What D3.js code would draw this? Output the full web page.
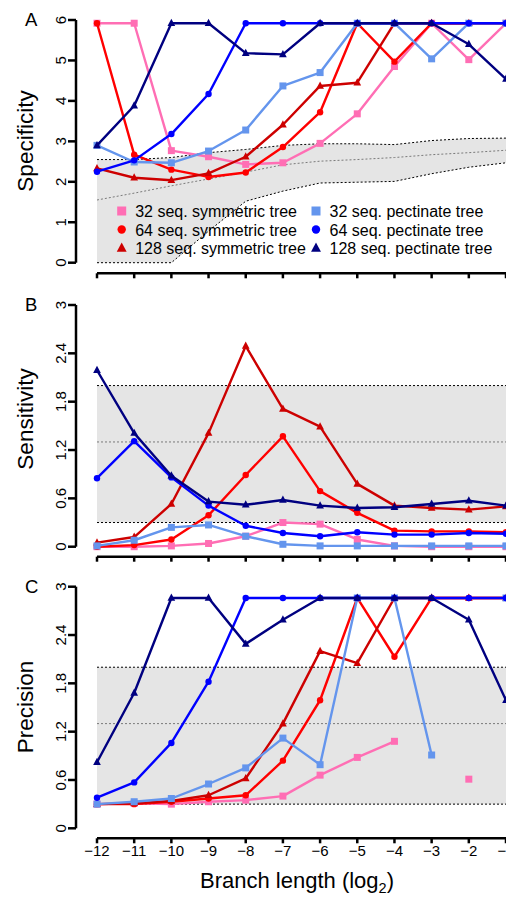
<!DOCTYPE html>
<html>
<head>
<meta charset="utf-8">
<script src="https://cdn.jsdelivr.net/npm/d3@7"></script>
<style>
  body { margin: 0; background: #fff; }
  svg { display: block; font-family: "Liberation Sans", Arial, Helvetica, sans-serif; }
</style>
</head>
<body>
<div id="chart"></div>
<script>
// branch lengths (log2)
var branchLen = [-12, -11, -10, -9, -8, -7, -6, -5, -4, -3, -2, -1];

var seriesNames = ["32 seq. symmetric tree", "64 seq. symmetric tree", "128 seq. symmetric tree",
                   "32 seq. pectinate tree", "64 seq. pectinate tree", "128 seq. pectinate tree"];
var seriesColors = ["#ff6eb4", "#ff0000", "#cd0000", "#6495ed", "#0000ff", "#000080"];
var seriesShapes = ["square", "circle", "triangle", "square", "circle", "triangle"];

// panel A - specificity
var specSym32  = [5.92, 5.92, 2.77, 2.62, 2.43, 2.47, 2.95, 3.68, 4.85, 5.92, 5.02, 5.92];
var specSym64  = [5.92, 2.67, 2.30, 2.12, 2.23, 2.86, 3.72, 5.92, 4.97, 5.92, 5.92, 5.92];
var specSym128 = [2.33, 2.10, 2.04, 2.21, 2.62, 3.41, 4.37, 4.45, 5.92, 5.92, 5.92, 5.92];
var specPec32  = [2.90, 2.49, 2.47, 2.76, 3.28, 4.37, 4.70, 5.92, 5.92, 5.04, 5.92, 5.92];
var specPec64  = [2.25, 2.53, 3.18, 4.17, 5.92, 5.92, 5.92, 5.92, 5.92, 5.92, 5.92, 5.92];
var specPec128 = [2.90, 3.88, 5.92, 5.92, 5.18, 5.15, 5.92, 5.92, 5.92, 5.92, 5.40, 4.54];
var specBandUpper = [2.55, 2.55, 2.60, 2.72, 2.80, 2.90, 2.94, 2.94, 2.92, 3.02, 3.07, 3.08];
var specBandMid   = [1.55, 1.72, 1.90, 2.07, 2.24, 2.42, 2.51, 2.55, 2.60, 2.67, 2.72, 2.78];
var specBandLower = [0, 0, 0, 0.78, 1.52, 1.77, 1.97, 1.99, 2.01, 2.20, 2.36, 2.47];

// panel B - sensitivity
var sensSym32  = [0.00, 0.00, 0.01, 0.04, 0.13, 0.30, 0.28, 0.09, 0.01, 0.00, 0.00, 0.00];
var sensSym64  = [0.00, 0.02, 0.09, 0.39, 0.89, 1.37, 0.69, 0.42, 0.20, 0.19, 0.19, 0.18];
var sensSym128 = [0.05, 0.12, 0.53, 1.41, 2.49, 1.71, 1.49, 0.78, 0.51, 0.48, 0.46, 0.50];
var sensPec32  = [0.01, 0.08, 0.24, 0.27, 0.13, 0.03, 0.01, 0.01, 0.01, 0.01, 0.01, 0.01];
var sensPec64  = [0.85, 1.31, 0.86, 0.51, 0.26, 0.17, 0.13, 0.18, 0.15, 0.15, 0.17, 0.16];
var sensPec128 = [2.19, 1.41, 0.88, 0.56, 0.52, 0.58, 0.51, 0.48, 0.49, 0.53, 0.57, 0.51];

// panel C - precision (null = no value)
var precSym32  = [0.30, 0.31, 0.30, 0.33, 0.35, 0.40, 0.66, 0.88, 1.08, null, 0.61, null];
var precSym64  = [0.30, 0.30, 0.33, 0.37, 0.41, 0.84, 1.59, 2.86, 2.13, 2.86, 2.86, 2.86];
var precSym128 = [0.30, 0.31, 0.34, 0.41, 0.62, 1.30, 2.20, 2.05, 2.86, 2.86, 2.86, 2.86];
var precPec32  = [0.30, 0.33, 0.37, 0.55, 0.75, 1.12, 0.79, 2.86, 2.86, 0.91, null, 2.86];
var precPec64  = [0.38, 0.57, 1.06, 1.82, 2.86, 2.86, 2.86, 2.86, 2.86, 2.86, 2.86, 2.86];
var precPec128 = [0.82, 1.68, 2.86, 2.86, 2.29, 2.59, 2.86, 2.86, 2.86, 2.86, 2.59, 1.59];

// flat band for B and C
var bandBC = [0.3, 1.3, 2.0];

var W = 506, H = 897;
var svg = d3.select("#chart").append("svg").attr("width", W).attr("height", H);

var x = d3.scaleLinear().domain([-12, -1]).range([97, 506]);

function flat(v) { return branchLen.map(function(){ return v; }); }
function fmt3(d) { return d === 0 || d === 3 ? String(d) : d.toFixed(1); }

var panels = [
  {letter: "A", title: "Specificity", top: 20, bottom: 262.7, axisY: 273.3, max: 6,
   ticks: [0, 1, 2, 3, 4, 5, 6], fmt: d3.format("d"), titleY: 141,
   data: [specSym32, specSym64, specSym128, specPec32, specPec64, specPec128],
   band: [specBandLower, specBandMid, specBandUpper]},
  {letter: "B", title: "Sensitivity", top: 305, bottom: 546.7, axisY: 556.7, max: 3,
   ticks: [0, 0.6, 1.2, 1.8, 2.4, 3], fmt: fmt3, titleY: 419,
   data: [sensSym32, sensSym64, sensSym128, sensPec32, sensPec64, sensPec128],
   band: [flat(bandBC[0]), flat(bandBC[1]), flat(bandBC[2])]},
  {letter: "C", title: "Precision", top: 586.7, bottom: 828.3, axisY: 838.3, max: 3,
   ticks: [0, 0.6, 1.2, 1.8, 2.4, 3], fmt: fmt3, titleY: 707,
   data: [precSym32, precSym64, precSym128, precPec32, precPec64, precPec128],
   band: [flat(bandBC[0]), flat(bandBC[1]), flat(bandBC[2])],
   xLabels: true}
];

function drawMarker(g, shape, color, cx, cy, size) {
  if (shape === "square") {
    g.append("rect").attr("x", cx - size / 2).attr("y", cy - size / 2)
      .attr("width", size).attr("height", size).attr("fill", color);
  } else if (shape === "circle") {
    g.append("circle").attr("cx", cx).attr("cy", cy).attr("r", size / 2 - 0.3).attr("fill", color);
  } else {
    var s = size * 1.1;
    g.append("path")
      .attr("d", "M" + cx + "," + (cy - s * 0.58) + "L" + (cx + s / 2) + "," + (cy + s * 0.36) +
        "L" + (cx - s / 2) + "," + (cy + s * 0.36) + "Z")
      .attr("fill", color);
  }
}

panels.forEach(function(p) {
  var y = d3.scaleLinear().domain([0, p.max]).range([p.bottom, p.top]);
  var g = svg.append("g");

  // grey band
  var area = d3.area()
    .x(function(d, i){ return x(branchLen[i]); })
    .y0(function(d, i){ return y(p.band[0][i]); })
    .y1(function(d, i){ return y(p.band[2][i]); });
  g.append("path").datum(branchLen).attr("d", area).attr("fill", "#e5e5e5");

  var bandLine = d3.line()
    .x(function(d, i){ return x(branchLen[i]); })
    .y(function(d){ return y(d); });
  [0, 2].forEach(function(k) {
    g.append("path").datum(p.band[k]).attr("d", bandLine)
      .attr("fill", "none").attr("stroke", "#000").attr("stroke-width", 1)
      .attr("stroke-dasharray", "2,2");
  });
  g.append("path").datum(p.band[1]).attr("d", bandLine)
    .attr("fill", "none").attr("stroke", "#7a7a7a").attr("stroke-width", 1)
    .attr("stroke-dasharray", "2,2");

  // series lines
  var line = d3.line()
    .defined(function(d){ return d !== null; })
    .x(function(d, i){ return x(branchLen[i]); })
    .y(function(d){ return y(d); });

  p.data.forEach(function(vals, s) {
    g.append("path").datum(vals).attr("d", line)
      .attr("fill", "none").attr("stroke", seriesColors[s]).attr("stroke-width", 2.4)
      .attr("stroke-linejoin", "round");
    vals.forEach(function(v, i) {
      if (v === null) return;
      drawMarker(g, seriesShapes[s], seriesColors[s], x(branchLen[i]), y(v), 7);
    });
  });

  // y axis
  var yAxis = g.append("g").attr("transform", "translate(76,0)");
  yAxis.append("line").attr("x1", 0).attr("x2", 0).attr("y1", y(0)).attr("y2", y(p.max))
    .attr("stroke", "#000").attr("stroke-width", 2.5);
  p.ticks.forEach(function(t) {
    yAxis.append("line").attr("x1", -8).attr("x2", 0).attr("y1", y(t)).attr("y2", y(t))
      .attr("stroke", "#000").attr("stroke-width", 2.5);
    yAxis.append("text").attr("transform", "translate(-10," + y(t) + ") rotate(-90)")
      .attr("text-anchor", "middle").attr("font-size", 15).text(p.fmt(t));
  });

  // x axis
  var xAxis = g.append("g");
  xAxis.append("line").attr("x1", x(-12)).attr("x2", x(-1)).attr("y1", p.axisY).attr("y2", p.axisY)
    .attr("stroke", "#000").attr("stroke-width", 2.5);
  branchLen.forEach(function(b) {
    xAxis.append("line").attr("x1", x(b)).attr("x2", x(b)).attr("y1", p.axisY).attr("y2", p.axisY + 5)
      .attr("stroke", "#000").attr("stroke-width", 2.5);
    if (p.xLabels) {
      xAxis.append("text").attr("x", x(b)).attr("y", p.axisY + 18).attr("text-anchor", "middle")
        .attr("font-size", 15).text("\u2212" + Math.abs(b));
    }
  });

  // y title and panel letter
  svg.append("text").attr("transform", "translate(33," + p.titleY + ") rotate(-90)")
    .attr("text-anchor", "middle").attr("font-size", 22.5).text(p.title);
  svg.append("text").attr("x", 25).attr("y", p.top + 6).attr("font-size", 18.5).text(p.letter);
});

// x title
var xt = svg.append("text").attr("x", 297).attr("y", 888).attr("text-anchor", "middle").attr("font-size", 22);
xt.append("tspan").text("Branch length (log");
xt.append("tspan").attr("font-size", 14.5).attr("dy", 5).text("2");
xt.append("tspan").attr("dy", -5).text(")");

// legend in panel A
var legend = svg.append("g");
var legX = [121.7, 316], legY = [211, 229.5, 248.3];
seriesNames.forEach(function(name, s) {
  var col = Math.floor(s / 3), row = s % 3;
  drawMarker(legend, seriesShapes[s], seriesColors[s], legX[col], legY[row], 9);
  legend.append("text").attr("x", legX[col] + 13.5).attr("y", legY[row] + 6)
    .attr("font-size", 16).text(name);
});
</script>
</body>
</html>
